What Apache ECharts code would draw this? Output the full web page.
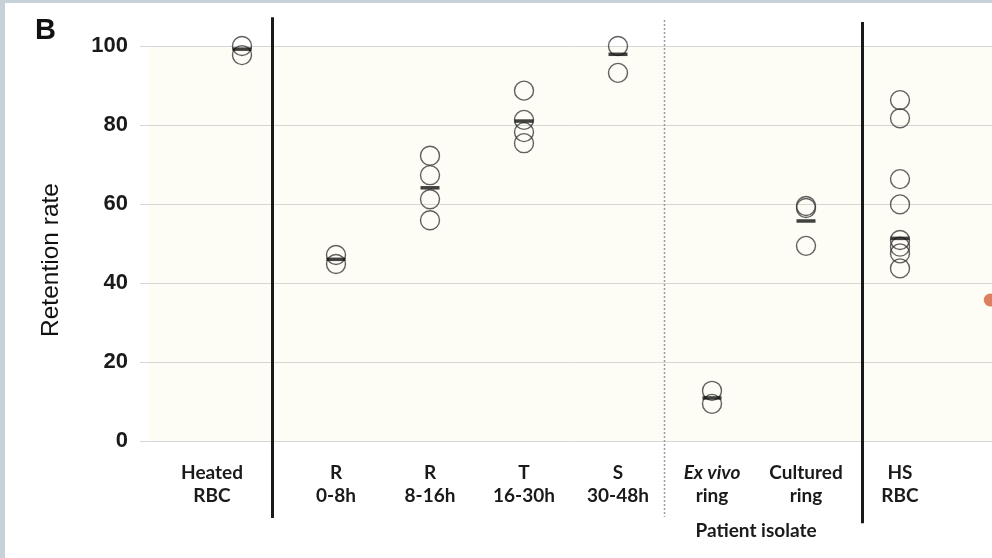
<!DOCTYPE html>
<html>
<head>
<meta charset="utf-8">
<script src="https://cdn.jsdelivr.net/npm/echarts@6/dist/echarts.min.js"></script>
<style>
html,body{margin:0;padding:0;background:#fff;}
#chart{width:992px;height:558px;}
</style>
</head>
<body>
<div id="chart"></div>
<script>
// ---- data ----
const categories = ['Heated\nRBC', 'R\n0-8h', 'R\n8-16h', 'T\n16-30h', 'S\n30-48h', 'Ex vivo\nring', 'Cultured\nring', 'HS\nRBC'];
const heatedRBC = [100, 97.7];
const r0_8 = [47.1, 44.8];
const r8_16 = [72.2, 67.3, 61.2, 55.9];
const t16_30 = [88.7, 81.3, 78.2, 75.4];
const s30_48 = [100, 93.2];
const exVivoRing = [12.7, 9.4];
const culturedRing = [59.5, 59.0, 49.4];
const hsRBC = [86.3, 81.7, 66.3, 59.9, 50.9, 49.2, 47.5, 43.7];
const groupValues = [heatedRBC, r0_8, r8_16, t16_30, s30_48, exVivoRing, culturedRing, hsRBC];
const centerBars = [99.2, 46.0, 64.1, 81.0, 97.9, 10.9, 55.7, 51.3];
const yTicks = [0, 20, 40, 60, 80, 100];
const groupLabel = 'Patient isolate';
// vertical separators: [x position, top extent, bottom extent] in axis units
const separators = [[1.32, 107.3, -19.5], [5.49, 106.6, -19.2], [7.6, 106.1, -20.8]];
const separatorDotted = [false, true, false];
const strayDot = [[8.96, 35.7]];

// ---- build series data ----
const pointData = [];
groupValues.forEach((vals, i) => vals.forEach(v => pointData.push([i + 1, v])));
const barData = centerBars.map((v, i) => [i + 1, v]);
const sepData = separators.map((s, i) => [s[0], s[1], s[2], separatorDotted[i] ? 1 : 0]);

const chart = echarts.init(document.getElementById('chart'), null, {renderer: 'canvas'});
const labelFont = 'Lato';
const baseRich = {fontFamily: labelFont, fontWeight: 'bold', fontSize: 19, color: '#1a1a1a', lineHeight: 23};
chart.setOption({
  animation: false,
  backgroundColor: '#ffffff',
  grid: {left: 148, top: 46, width: 846, height: 395, show: true, backgroundColor: '#fdfcf5', borderWidth: 0,
         outerBoundsMode: 'none', containLabel: false},
  xAxis: {
    type: 'value', min: 0, max: 9, interval: 1,
    axisLine: {show: false}, axisTick: {show: false}, splitLine: {show: false},
    axisLabel: {
      margin: 20,
      formatter: function (v) {
        const c = categories[v - 1];
        if (!c) return '';
        const parts = c.split('\n');
        if (v === 1) return '{h|' + parts[0] + '}\n{h|' + parts[1] + '}';
        const first = parts[0] === 'Ex vivo' ? '{i|' + parts[0] + '}' : '{b|' + parts[0] + '}';
        return first + '\n{b|' + parts[1] + '}';
      },
      rich: {
        b: baseRich,
        h: Object.assign({}, baseRich, {padding: [0, 60, 0, 0]}),
        i: Object.assign({}, baseRich, {fontStyle: 'italic'})
      }
    }
  },
  yAxis: {
    type: 'value', min: 0, max: 100, interval: 20,
    axisLine: {show: false},
    axisTick: {show: true, length: 8, lineStyle: {color: '#d6d6d6'}},
    splitLine: {show: true, lineStyle: {color: '#d6d6d6', width: 1}},
    axisLabel: {
      margin: 20, fontFamily: 'Liberation Sans', fontWeight: 'bold', fontSize: 22, color: '#1a1a1a',
      formatter: v => (yTicks.indexOf(v) >= 0 ? String(v) : '')
    }
  },
  graphic: [
    {type: 'rect', left: 0, top: 0, shape: {width: 5, height: 558}, style: {fill: '#c7d1d8'}, silent: true},
    {type: 'rect', left: 0, top: 0, shape: {width: 992, height: 3}, style: {fill: '#c7d1d8'}, silent: true},
    {type: 'text', left: 35, top: 16, style: {text: 'B', font: 'bold 29px "Liberation Sans"', fill: '#111'}},
    {type: 'text', x: 51, y: 260, rotation: Math.PI / 2,
      style: {text: 'Retention rate', font: '24.5px "Liberation Sans"', fill: '#111', align: 'center', verticalAlign: 'middle'}},
    {type: 'text', x: 756, y: 531,
      style: {text: groupLabel, font: 'bold 19px Lato', fill: '#1a1a1a', align: 'center', verticalAlign: 'middle'}}
  ],
  series: [
    {
      type: 'custom', data: sepData, clip: false, z: 2, silent: true,
      encode: {x: 0, y: [1, 2]},
      renderItem: function (params, api) {
        const p1 = api.coord([api.value(0), api.value(1)]);
        const p2 = api.coord([api.value(0), api.value(2)]);
        const dotted = api.value(3) === 1;
        return {
          type: 'line',
          shape: {x1: Math.round(p1[0]) + 0.5, y1: p1[1], x2: Math.round(p1[0]) + 0.5, y2: p2[1]},
          style: dotted ? {stroke: '#9a9a9a', lineWidth: 1.5, lineDash: [2, 2]}
                        : {stroke: '#1a1a1a', lineWidth: 3}
        };
      }
    },
    {
      type: 'scatter', data: pointData, symbol: 'circle', symbolSize: 19, z: 3,
      itemStyle: {color: 'rgba(255,255,255,0)', borderColor: '#3a3a3a', borderWidth: 1.4}
    },
    {
      type: 'scatter', data: barData, symbol: 'rect', symbolSize: [19, 3.5], z: 4,
      itemStyle: {color: '#111'}
    },
    {
      type: 'scatter', data: strayDot, symbol: 'circle', symbolSize: 13, z: 5, clip: false,
      itemStyle: {color: '#d5603a'}
    }
  ]
});
</script>
</body>
</html>
